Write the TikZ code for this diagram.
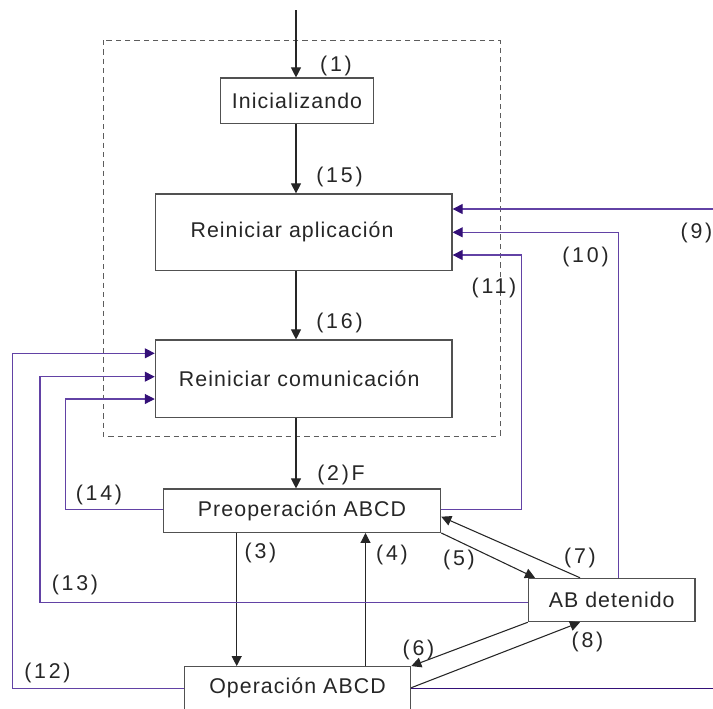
\documentclass[tikz,border=0pt]{standalone}
\usepackage{fontspec}
\setmainfont{Liberation Sans}
\newfontfamily\boxfont[LetterSpace=5]{Liberation Sans}
\newfontfamily\tagfont[LetterSpace=13]{Liberation Sans}
\usetikzlibrary{arrows.meta}
\definecolor{ink}{HTML}{262626}
\definecolor{linkpurple}{RGB}{98,66,165}
\definecolor{tippurple}{RGB}{52,16,120}
\begin{document}
\begin{tikzpicture}[x=0.75pt,y=-0.75pt,
  state/.style={draw=ink!80, line width=0.9pt, fill=white, inner sep=0pt,
    font=\boxfont\fontsize{16}{19}\selectfont, text=ink},
  tag/.style={inner sep=0pt, font=\tagfont\fontsize{16}{19}\selectfont, text=ink},
  flow/.style={draw=ink, line width=0.8pt, -{Triangle[length=7.5pt,width=7.5pt]}},
  back/.style={draw=linkpurple, line width=0.8pt,
    -{Triangle[length=7.5pt,width=7.5pt,color=tippurple]}},
  backline/.style={draw=tippurple, line width=0.8pt},
  frame/.style={draw=ink!75, line width=0.7pt, dash pattern=on 4pt off 3pt}]
\useasboundingbox (0,0) rectangle (713,708);
\clip (0,0) rectangle (713,708);

% dashed enclosure around the initialisation states
\draw[frame] (103,40) rectangle (500,436);

% states
\node[state, minimum width=114.45pt, minimum height=34pt] (init) at (297,100.7) {Inicializando};
\node[state, minimum width=222.5pt, minimum height=57.5pt] (rap) at (303.7,232.3)
  {\hspace*{-17.5pt}Reiniciar aplicación};
\node[state, minimum width=222.5pt, minimum height=58pt] (rcom) at (303.7,378.7)
  {\hspace*{-6.7pt}Reiniciar comunicación};
\node[state, minimum width=208pt, minimum height=32.5pt] (pre) at (302,510.7) {Preoperación ABCD};
\node[state, minimum width=169.8pt, minimum height=32.3pt] (op) at (297.5,688.2) {Operación ABCD};
\node[state, minimum width=125pt, minimum height=32.5pt] (ab) at (611.7,600) {AB detenido};

% free ends
\coordinate (start) at (296,10);
\coordinate (e9) at (713,209);
\coordinate (e9b) at (713,688.3);

% main sequence
\draw[flow] (start) -- (start |- init.north);
\draw[flow] (start |- init.south) -- (start |- rap.north);
\draw[flow] (start |- rap.south) -- (start |- rcom.north);
\draw[flow] (start |- rcom.south) -- (start |- pre.north);
\draw[flow] (pre.south -| 236.7,0) -- (op.north -| 236.7,0);
\draw[flow] (op.north -| 365.5,0) -- (pre.south -| 365.5,0);
\draw[flow] (pre.south east) -- (ab.north -| 535,0);
\draw[flow] (ab.north -| 580,0) -- (pre.east |- 0,516.7);
\draw[flow] (ab.south west) -- (op.north east);
\draw[flow] (op.east |- 0,687.7) -- (ab.south -| 580,0);

% transitions back to the reset states
\draw[back] (e9) -- (rap.east |- e9);
\draw[backline] (op.east |- e9b) -- (e9b);
\draw[back] (ab.north -| 618.3,0) |- (rap.east |- 0,232.3);
\draw[back] (pre.east |- 0,509.3) -| (521.3,255) -- (rap.east |- 0,255);
\draw[back] (op.west |- 0,688.3) -| (12.7,353.3) -- (rcom.west |- 0,353.3);
\draw[back] (ab.west |- 0,602.7) -| (40,376.7) -- (rcom.west |- 0,376.7);
\draw[back] (pre.west |- 0,509.3) -| (65.3,399) -- (rcom.west |- 0,399);

% transition numbers
\node[tag] (t1) at (336,66) {(1)};
\node[tag] (t15) at (339.5,177) {(15)};
\node[tag] (t16) at (339.5,323) {(16)};
\node[tag] (t2) at (341,475) {(2)F};
\node[tag] (t9) at (696.5,233) {(9)};
\node[tag] (t10) at (585.5,257) {(10)};
\node[tag] (t11) at (494,288) {(11)};
\node[tag] (t14) at (99,495) {(14)};
\node[tag] (t3) at (260.5,553) {(3)};
\node[tag] (t4) at (392,555) {(4)};
\node[tag] (t5) at (459,560) {(5)};
\node[tag] (t7) at (580,558) {(7)};
\node[tag] (t13) at (75,585) {(13)};
\node[tag] (t6) at (418.5,650) {(6)};
\node[tag] (t8) at (587.5,641.7) {(8)};
\node[tag] (t12) at (47.5,673) {(12)};
\end{tikzpicture}
\end{document}
